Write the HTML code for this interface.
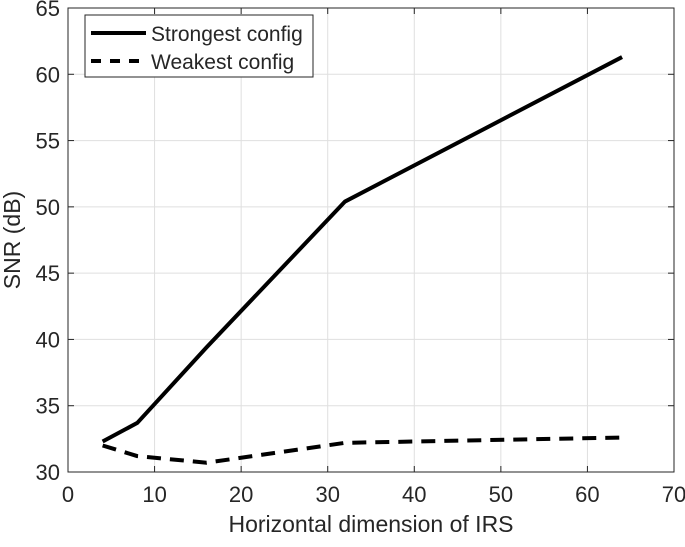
<!DOCTYPE html>
<html><head><meta charset="utf-8"><style>
body{margin:0;background:#fff;}
svg text{font-family:"Liberation Sans",Arial,sans-serif;fill:#262626;}
</style></head><body>
<svg id="chart" width="685" height="542" xmlns="http://www.w3.org/2000/svg"></svg>
<script>
const xTicks=[0,10,20,30,40,50,60,70];
const yTicks=[30,35,40,45,50,55,60,65];
const xValues=[4,8,16,32,64];
const strongest=[32.3,33.7,39.4,50.4,61.3];
const weakest=[32.0,31.2,30.7,32.2,32.6];
const L=68,R=674,T=8,B=472;
const sx=v=>L+(v-0)/(70-0)*(R-L);
const sy=v=>B-(v-30)/(65-30)*(B-T);
const svg=document.getElementById('chart');
const NS='http://www.w3.org/2000/svg';
function mk(tag,attrs,parent){const e=document.createElementNS(NS,tag);for(const k in attrs)e.setAttribute(k,attrs[k]);(parent||svg).appendChild(e);return e;}
const grid=mk('g',{});


xTicks.forEach(t=>{
 mk('line',{x1:sx(t),x2:sx(t),y1:T,y2:B,stroke:'#dfdfdf','stroke-width':1},grid);
 mk('line',{x1:sx(t),x2:sx(t),y1:B,y2:B-6,stroke:'#262626','stroke-width':1},grid);
 mk('line',{x1:sx(t),x2:sx(t),y1:T,y2:T+6,stroke:'#262626','stroke-width':1},grid);
 const tx=mk('text',{x:sx(t),y:B+30,'text-anchor':'middle','font-size':22});
 tx.textContent=t;
 
 
});
yTicks.forEach(t=>{
 mk('line',{x1:L,x2:R,y1:sy(t),y2:sy(t),stroke:'#dfdfdf','stroke-width':1},grid);
 mk('line',{x1:L,x2:L+6,y1:sy(t),y2:sy(t),stroke:'#262626','stroke-width':1},grid);
 mk('line',{x1:R,x2:R-6,y1:sy(t),y2:sy(t),stroke:'#262626','stroke-width':1},grid);
 const ty=mk('text',{x:L-8,y:sy(t)+8,'text-anchor':'end','font-size':22});
 ty.textContent=t;
 
 
});
const box=mk('rect',{x:L,y:T,width:R-L,height:B-T,fill:'none',stroke:'#262626','stroke-width':1});


const pts=a=>a.map((v,i)=>sx(xValues[i])+','+sy(v)).join(' ');
const s1=mk('polyline',{points:pts(strongest),fill:'none',stroke:'#000','stroke-width':4});


const s2=mk('polyline',{points:pts(weakest),fill:'none',stroke:'#000','stroke-width':4,'stroke-dasharray':'14,9'});


const xl=mk('text',{x:(L+R)/2,y:532,'text-anchor':'middle','font-size':23});
xl.textContent='Horizontal dimension of IRS';


const yl=mk('text',{x:0,y:0,'text-anchor':'middle','font-size':23,transform:'translate(20,'+((T+B)/2)+') rotate(-90)'});
yl.textContent='SNR (dB)';


const lg=mk('g',{});


mk('rect',{x:85,y:15,width:228,height:62,fill:'#fff',stroke:'#262626','stroke-width':1},lg);
mk('line',{x1:91,x2:146,y1:33,y2:33,stroke:'#000','stroke-width':4},lg);
mk('line',{x1:91,x2:146,y1:61,y2:61,stroke:'#000','stroke-width':4,'stroke-dasharray':'10,9'},lg);
const t1=mk('text',{x:151,y:41,'font-size':21,fill:'#000'},lg);t1.textContent='Strongest config';


const t2=mk('text',{x:151,y:69,'font-size':21,fill:'#000'},lg);t2.textContent='Weakest config';


</script>
</body></html>
